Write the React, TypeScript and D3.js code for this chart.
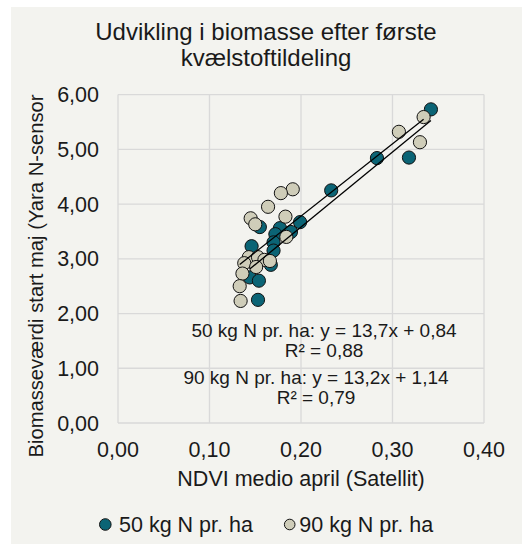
import React from "react";
import * as d3 from "d3";

// NDVI (x) and biomass value (y) per plot
const ndvi50 = [0.342, 0.318, 0.283, 0.233, 0.199, 0.155, 0.177, 0.189, 0.172, 0.170, 0.170, 0.146, 0.167, 0.144, 0.154, 0.153];
const bio50 = [5.73, 4.85, 4.84, 4.25, 3.67, 3.58, 3.56, 3.49, 3.45, 3.30, 3.15, 3.23, 2.89, 2.66, 2.60, 2.25];

const ndvi90 = [0.334, 0.307, 0.330, 0.191, 0.178, 0.164, 0.145, 0.150, 0.183, 0.184, 0.143, 0.153, 0.160, 0.166, 0.138, 0.151, 0.136, 0.133, 0.134];
const bio90 = [5.59, 5.32, 5.13, 4.27, 4.20, 3.95, 3.74, 3.63, 3.77, 3.40, 3.03, 3.03, 2.98, 2.96, 2.92, 2.85, 2.73, 2.50, 2.23];

const seriesNames = ["50 kg N pr. ha", "90 kg N pr. ha"];
const seriesColors = ["#0b6475", "#cfcdb9"];
const trendSlope = [13.7, 13.2];
const trendIntercept = [0.84, 1.14];
const trendR2 = ["0,88", "0,79"];

const xTicks = [0, 0.1, 0.2, 0.3, 0.4];
const yTicks = [0, 1, 2, 3, 4, 5, 6];

const font = "'Liberation Sans', Arial, sans-serif";
const fmt = (v: number) => d3.format(".2f")(v).replace(".", ",");
const fmt1 = (v: number) => d3.format(".1f")(v).replace(".", ",");

const width = 524;
const height = 544;
const left = 118;
const right = 484;
const top = 94.6;
const bottom = 423;

export default function App() {
  const x = d3.scaleLinear().domain([0, 0.4]).range([left, right]);
  const y = d3.scaleLinear().domain([0, 6]).range([bottom, top]);

  const series = [
    ndvi50.map((v, i) => ({ x: v, y: bio50[i] })),
    ndvi90.map((v, i) => ({ x: v, y: bio90[i] })),
  ];

  // trend label boxes (centre x, first baseline)
  const labelPos = [
    { cx: 324, y: 336.5 },
    { cx: 316, y: 383.5 },
  ];

  return (
    <svg width={width} height={height} style={{ position: "absolute", left: 0, top: 0 }}>
      <rect x={11} y={7} width={511} height={537} fill="#f3f3ef" />
      <text x={266} y={40} textAnchor="middle" fontFamily={font} fontSize={24} fill="#1a1a1a">
        Udvikling i biomasse efter første
      </text>
      <text x={266} y={66} textAnchor="middle" fontFamily={font} fontSize={24} fill="#1a1a1a">
        kvælstoftildeling
      </text>

      {/* grid */}
      {xTicks.map(t => (
        <line key={"gx" + t} x1={x(t)} x2={x(t)} y1={top} y2={bottom} stroke="#d9d9d9" strokeWidth={1.3} />
      ))}
      {yTicks.map(t => (
        <line key={"gy" + t} x1={left} x2={right} y1={y(t)} y2={y(t)} stroke="#d9d9d9" strokeWidth={1.3} />
      ))}

      {yTicks.map(t => (
        <text key={"ty" + t} x={99} y={y(t) + 7.5} textAnchor="end" fontFamily={font} fontSize={21.5} fill="#1a1a1a">
          {fmt(t)}
        </text>
      ))}
      {xTicks.map(t => (
        <text key={"tx" + t} x={x(t)} y={457} textAnchor="middle" fontFamily={font} fontSize={21.5} fill="#1a1a1a">
          {fmt(t)}
        </text>
      ))}

      {series.map((s, si) => (
        <g key={"s" + si}>
          {s.map((d, i) => (
            <circle key={i} cx={x(d.x)} cy={y(d.y)} r={6.6} fill={seriesColors[si]} stroke="#111" strokeWidth={1} />
          ))}
        </g>
      ))}

      {series.map((s, si) => {
        const ext = d3.extent(s, d => d.x) as [number, number];
        const f = (v: number) => trendSlope[si] * v + trendIntercept[si];
        return (
          <line
            key={"tr" + si}
            x1={x(ext[0])}
            y1={y(f(ext[0]))}
            x2={x(ext[1])}
            y2={y(f(ext[1]))}
            stroke="#000"
            strokeWidth={1.3}
          />
        );
      })}

      {labelPos.map((p, si) => (
        <g key={"lab" + si} fontFamily={font} fontSize={19} fill="#1a1a1a" textAnchor="middle">
          <text x={p.cx} y={p.y}>
            {`${seriesNames[si]}: y = ${fmt1(trendSlope[si])}x + ${fmt(trendIntercept[si])}`}
          </text>
          <text x={p.cx} y={p.y + 20.5}>{`R² = ${trendR2[si]}`}</text>
        </g>
      ))}

      <text x={301} y={486} textAnchor="middle" fontFamily={font} fontSize={21.5} fill="#1a1a1a">
        NDVI medio april (Satellit)
      </text>
      <text
        transform="translate(42.5, 276) rotate(-90)"
        textAnchor="middle"
        fontFamily={font}
        fontSize={20.2}
        fill="#1a1a1a"
      >
        Biomasseværdi start maj (Yara N-sensor
      </text>

      <circle cx={105.3} cy={524.5} r={5.8} fill={seriesColors[0]} stroke="#111" strokeWidth={1} />
      <text x={119} y={531.5} fontFamily={font} fontSize={21.5} fill="#1a1a1a">{seriesNames[0]}</text>
      <circle cx={289.7} cy={524.5} r={5.3} fill={seriesColors[1]} stroke="#111" strokeWidth={1} />
      <text x={299.3} y={531.5} fontFamily={font} fontSize={21.5} fill="#1a1a1a">{seriesNames[1]}</text>
    </svg>
  );
}
